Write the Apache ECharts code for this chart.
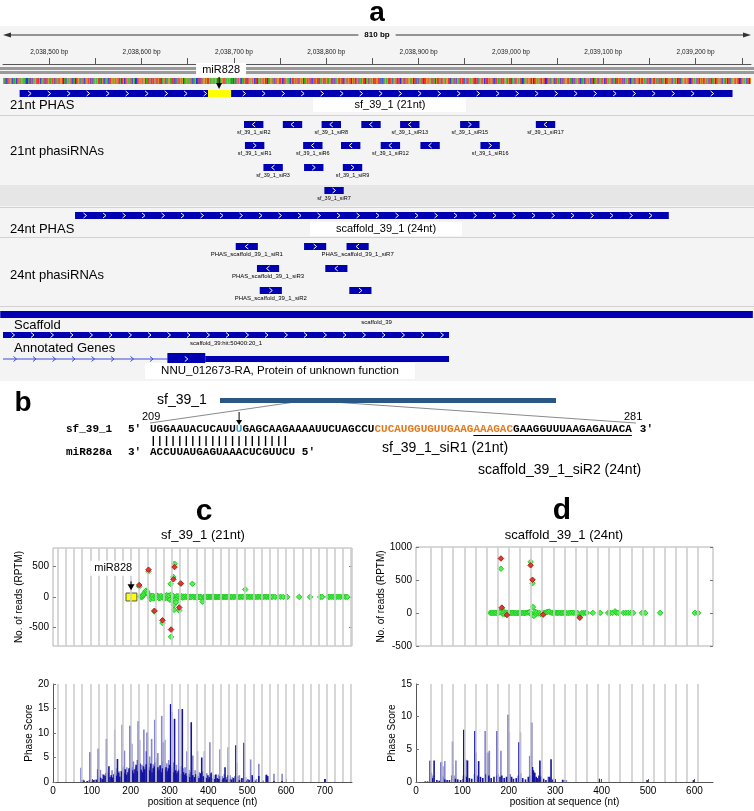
<!DOCTYPE html>
<html>
<head>
<meta charset="utf-8">
<script src="https://cdn.jsdelivr.net/npm/echarts@6/dist/echarts.min.js"></script>
<style>
html,body{margin:0;padding:0;background:#fff;}
#main{width:754px;height:811px;}
</style>
</head>
<body>
<div id="main"></div>
<script>
// ================= DATA =================
// Panel a : genome browser (bp coordinates)
const rulerMin = 2038450, rulerMax = 2039260;
const rulerTicks = [2038500,2038550,2038600,2038650,2038700,2038750,2038800,2038850,2038900,2038950,2039000,2039050,2039100,2039150,2039200,2039250];
const rulerLabels = [2038500,2038600,2038700,2038800,2038900,2039000,2039100,2039200];
const seqLines = [
"GATCCTTAGTCAAGCTTGTAGAAATCCATCTTCGAGTTTGCAAGCTCTTGAAGTGCTTAATTGGTCATCGAAGTTCTAC",
"TTGGCAATTCAGGTGCTTCAAGAGTTACGTCCAATCTTGGAGATGTTCACTGCTTGAAATTCGACCTTGTGATGGCAAT",
"AGCTTCGATTGTTCAAGTCATGGAATACTCATTTGAGCAAGAAAATTCTAGCCTCTCATGGTGTTGAAGAAAGACGAAG",
"GTTTAAGAGATACATCGTTGCCAAGTTCTTGAGTGCTTCAGATGTTGCTCAAGGATTCATGGTTGCCTTAGAATCGTTG",
"ATGCTTGAGCAAGTTGCTCCATAGTTCAATGCTTGAAGGTCTTCAAGTTGATCCGATTGTTCGAGCTTGCAATGTTCAG",
"TCGATGCTTGGTTCACCTAGAGTTTGCAAGTTCTTCAGATCGTTGGAAGCTTCATCGATTCTTGGTGAGCTTACGTTAG",
"CTTGATGGTTCAAGCTTCGAATGTTCAGCTTGAGGATCTTCAAGTTGCATCGTTGATCCTTGAAGCTTCGGATGTTCAA",
"GCTTGAGTTCCAAGTTGATCGCTTGAAGTTCGATCCTTGCAAGTCTTGAGCTTCATGGTTGAACTTCGAGTTCAAGCTT",
"GATGCTTCAAGTTCGATTGCTTGAGGTTCAACTTGATGCTTCGAGTTCAAGCTTGATCGTTGAAGCTTCCAGTTGATGC",
"TTCAAGCTTGAGTTCGATGCTTCAAGGTTGATCCTTGAAGCTTCGAGTTGATGCTTCAAGCTTGAGTTCGATGCTTCAA",
"GGTTGATCCTTGAAGCTTCGAGTTGATGCTTCAAGCTTGAGTTCGATGCTTCAAGGTTGATCCTTGAAGCTTCGAGTTG"
];
// features: [start, end, strand, row, label]
const phas21Track = [[2038468, 2039240, '+', 0, '']];
const mir828Site = [[2038672, 2038697]];
const mir828Cleave = [2038684];
const sirna21 = [
  [2038711,2038732,'-',0,'sf_39_1_siR2'],
  [2038753,2038774,'-',0,''],
  [2038795,2038816,'-',0,'sf_39_1_siR8'],
  [2038838,2038859,'-',0,''],
  [2038880,2038901,'-',0,'sf_39_1_siR13'],
  [2038945,2038966,'+',0,'sf_39_1_siR15'],
  [2039027,2039048,'-',0,'sf_39_1_siR17'],
  [2038712,2038733,'+',1,'sf_39_1_siR1'],
  [2038775,2038796,'-',1,'sf_39_1_siR6'],
  [2038816,2038837,'-',1,''],
  [2038859,2038880,'-',1,'sf_39_1_siR12'],
  [2038902,2038923,'-',1,''],
  [2038967,2038988,'+',1,'sf_39_1_siR16'],
  [2038732,2038753,'-',2,'sf_39_1_siR3'],
  [2038776,2038797,'+',2,''],
  [2038818,2038839,'+',2,'sf_39_1_siR9'],
  [2038798,2038819,'+',3,'sf_39_1_siR7']
];
const phas24Track = [[2038528, 2039171, '+', 0, '']];
const sirna24 = [
  [2038702,2038726,'-',0,'PHAS_scaffold_39_1_siR1'],
  [2038776,2038800,'+',0,''],
  [2038822,2038846,'-',0,'PHAS_scaffold_39_1_siR7'],
  [2038725,2038749,'-',1,'PHAS_scaffold_39_1_siR3'],
  [2038799,2038823,'-',1,''],
  [2038728,2038752,'+',2,'PHAS_scaffold_39_1_siR2'],
  [2038825,2038849,'+',2,'']
];
const scaffoldTrack = [[2038447, 2039262, '', 0, 'scaffold_39']];
const hitTrack = [[2038450, 2038933, '+', 0, 'scaffold_39:hit:50400:20_1']];
const geneModel = [[2038450, 2038628, 'intron'], [2038628, 2038669, 'cds'], [2038669, 2038933, 'utr']];

// Panel c / d : phase lines, reads, phase scores
const phaseLines21 = [12,33,54,75,96,117,138,159,180,201,222,243,264,285,306,327,348,369,390,411,432,453,474,495,516,537,558,579,600,621,642,663,684,705,726,747,768];
const phaseLines24 = [32,56,80,104,128,152,176,200,224,248,272,296,320,344,368,392,416,440,464,488,512,536,560,584,608];
const cTicksX = [0,100,200,300,400,500,600,700];
const dTicksX = [0,100,200,300,400,500,600];
const cScatterTicksY = [-500,0,500];
const dScatterTicksY = [-500,0,500,1000];
const cBarTicksY = [0,5,10,15,20];
const dBarTicksY = [0,5,10,15];
const cMir828 = [188, 216];

const cReadsGreen = [[222,170],[225,8],[228,-5],[230,10],[232,25],[234,45],[236,70],[238,95],[240,105],[242,85],[244,60],[246,419],[247,30],[249,-15],[251,-35],[253,15],[255,-10],[257,20],[259,-25],[261,-237],[263,10],[265,-15],[267,25],[269,-5],[271,12],[273,-20],[275,8],[277,-12],[279,18],[282,-425],[283,-8],[285,10],[287,-30],[289,15],[291,-10],[293,30],[295,-20],[297,8],[299,25],[301,-45],[303,215],[304,-650],[305,40],[307,-60],[309,20],[310,327],[311,-130],[312,-210],[313,543],[315,-40],[317,-86],[319,15],[321,-20],[323,10],[325,-220],[327,-8],[329,215],[331,12],[333,-10],[335,8],[338,-6],[341,10],[344,-5],[347,6],[350,-8],[353,5],[356,-4],[359,215],[361,6],[364,-5],[367,4],[370,-6],[373,5],[376,-3],[379,4],[382,-4],[385,-75],[388,3],[391,-3],[394,4],[397,-2],[400,3],[403,-3],[406,2],[409,4],[412,-2],[415,3],[418,-3],[421,2],[424,3],[427,-2],[430,2],[433,3],[436,-2],[439,2],[442,3],[445,-2],[448,2],[451,3],[454,-2],[457,2],[460,3],[464,-2],[468,2],[472,3],[476,2],[480,-2],[484,2],[488,3],[492,2],[495,123],[498,2],[502,3],[506,-2],[510,2],[514,3],[518,2],[522,-2],[526,2],[530,3],[534,2],[538,-2],[542,2],[546,3],[550,2],[554,2],[558,-2],[562,2],[566,3],[572,2],[580,2],[586,3],[593,2],[603,2],[634,2],[662,2],[688,2],[693,2],[709,2],[713,2],[718,3],[722,2],[727,2],[731,2],[736,3],[740,2],[745,2],[749,3],[754,2],[758,2]];
const cReadsRed = [[222,195],[246,445],[261,-225],[282,-380],[304,-532],[310,290],[313,489],[325,-172],[329,222]];

const dReadsGreen = [[160,2],[163,-2],[166,3],[169,-3],[172,4],[175,-4],[178,5],[181,10],[183,672],[185,60],[187,-12],[189,8],[191,-20],[193,6],[195,-8],[197,4],[200,-5],[203,3],[206,-4],[209,3],[212,-3],[215,2],[218,-3],[221,3],[224,2],[227,-2],[230,3],[233,-2],[236,3],[239,5],[242,8],[245,15],[247,774],[249,-25],[251,451],[252,90],[254,-45],[256,20],[258,-15],[260,8],[263,-10],[266,4],[269,-18],[272,3],[275,-4],[278,3],[281,10],[284,18],[287,22],[290,8],[293,3],[296,-3],[299,2],[302,3],[305,-2],[308,2],[311,3],[314,-2],[317,2],[320,3],[324,2],[328,-2],[332,2],[336,3],[340,2],[344,-2],[348,2],[353,-60],[357,2],[361,-2],[365,2],[368,2],[381,2],[397,2],[414,2],[419,3],[424,2],[429,25],[432,4],[436,2],[447,2],[452,3],[457,2],[463,2],[468,3],[487,2],[494,2],[526,2],[601,2],[608,2]];
const dReadsRed = [[183,826],[185,82],[247,723],[251,503],[353,-72],[196,-30],[274,-25]];

const cPhaseDark = [[75,0.4],[80,0.3],[88,0.2],[96,6.1],[100,0.3],[105,0.4],[112,0.5],[117,6.8],[120,1.0],[123,0.8],[127,0.6],[131,1.5],[134,1.2],[138,8.8],[141,1.8],[144,3.2],[147,1.0],[150,1.4],[154,0.9],[157,1.6],[160,2.0],[163,1.3],[166,4.7],[169,1.9],[172,1.1],[176,2.2],[180,3.0],[183,1.8],[186,2.6],[189,1.5],[193,2.0],[196,2.8],[199,11.5],[202,3.0],[205,2.4],[208,1.8],[211,2.6],[214,3.5],[218,2.2],[220,12.4],[224,3.8],[227,2.5],[230,2.0],[233,3.2],[236,2.6],[240,3.6],[243,10.1],[246,3.0],[249,2.4],[252,3.8],[255,2.0],[258,2.8],[261,3.2],[264,4.0],[267,2.2],[270,3.0],[273,2.5],[276,3.4],[279,2.0],[282,2.8],[285,8.1],[288,2.5],[291,3.0],[294,2.2],[297,2.8],[300,3.5],[303,15.9],[306,3.0],[309,2.0],[313,12.9],[316,2.4],[319,1.8],[322,2.2],[325,2.5],[328,1.6],[333,14.9],[336,2.0],[339,1.5],[342,1.8],[345,1.2],[349,1.6],[352,1.0],[356,12.2],[360,1.4],[364,1.0],[368,1.6],[372,1.2],[376,0.8],[380,1.8],[383,5.0],[387,1.2],[391,1.0],[395,0.8],[399,1.4],[403,1.0],[407,1.8],[411,0.8],[415,0.6],[419,1.5],[423,0.8],[427,0.6],[431,1.2],[435,0.5],[439,0.8],[443,3.0],[447,0.5],[451,1.4],[455,0.6],[460,0.5],[465,0.8],[471,7.5],[475,1.2],[480,0.4],[486,0.8],[492,8.0],[497,0.3],[505,0.4],[513,1.4],[520,0.3],[530,1.2],[540,0.3],[550,1.5],[553,1.2],[569,0.2],[590,0.2],[700,0.6]];
const cPhaseLight = [[72,2.9],[78,0.5],[93,0.4],[108,0.5],[115,2.6],[122,2.5],[128,1.6],[136,1.8],[140,2.2],[152,2.4],[159,10.7],[162,2.8],[170,2.2],[178,11.7],[182,3.4],[184,6.4],[190,3.0],[195,2.5],[203,7.8],[207,4.2],[213,3.0],[217,4.5],[223,8.6],[229,3.5],[234,10.7],[238,3.0],[240,6.3],[245,4.0],[249,5.2],[254,8.8],[258,3.6],[262,12.7],[266,5.0],[270,5.9],[274,3.2],[280,13.5],[284,4.2],[288,8.6],[293,3.8],[298,4.5],[301,2.8],[307,14.3],[311,4.0],[318,3.5],[324,14.9],[329,3.2],[335,2.8],[340,3.0],[345,6.3],[350,2.5],[354,2.0],[360,5.4],[366,2.4],[372,6.3],[377,2.0],[385,2.2],[390,6.3],[396,1.8],[404,8.1],[408,2.0],[414,1.4],[420,1.6],[426,1.5],[430,6.7],[436,1.2],[441,1.6],[446,1.0],[451,7.1],[456,1.4],[462,1.0],[468,1.2],[474,3.9],[480,1.4],[488,0.8],[496,1.0],[503,0.6],[509,4.6],[516,0.6],[524,0.6],[530,3.7],[548,1.4],[569,1.7],[590,1.7]];

const dPhaseDark = [[20,0.1],[25,0.1],[31,3.3],[33,1.4],[35,0.6],[39,3.3],[45,0.3],[50,0.2],[55,3.1],[57,0.8],[62,0.4],[67,0.3],[72,0.3],[79,6.2],[81,1.0],[85,0.5],[90,0.4],[96,0.3],[103,8.0],[106,1.0],[109,0.8],[111,3.3],[115,0.6],[120,0.5],[127,7.8],[129,4.5],[131,1.0],[135,3.2],[139,0.8],[144,0.6],[151,1.2],[154,4.5],[157,1.0],[162,0.6],[168,0.8],[175,7.8],[177,1.2],[181,0.8],[185,1.0],[190,0.6],[195,0.8],[199,10.3],[202,1.2],[206,0.8],[210,0.5],[216,0.6],[222,6.1],[225,1.3],[230,0.6],[236,0.4],[242,0.8],[247,1.0],[249,9.1],[251,2.3],[253,1.8],[256,1.4],[259,0.8],[262,0.6],[265,1.0],[267,3.3],[270,0.8],[275,0.5],[280,0.3],[287,0.8],[291,3.5],[295,0.4],[300,0.2],[316,0.35],[320,0.3],[395,0.5],[498,0.3],[598,0.3]];
const dPhaseLight = [[30,3.2],[37,1.0],[54,3.0],[58,2.4],[62,3.2],[77,1.0],[80,2.4],[86,3.3],[102,1.0],[108,3.4],[126,1.2],[133,0.8],[149,7.8],[153,0.8],[158,4.8],[174,1.0],[183,4.8],[201,7.6],[220,1.0],[225,7.6],[245,4.0],[250,2.0],[254,1.5],[270,1.0],[285,0.8],[290,0.7],[297,0.6],[320,0.35],[324,0.3]];

// ================= STYLE / LAYOUT =================
const SANS = '"Liberation Sans", Arial, sans-serif';
const NARROW = '"Liberation Sans Narrow", "Liberation Sans", Arial, sans-serif';
const MONO = '"Liberation Mono", "Courier New", monospace';
const BLUE = '#0000b2';
const GRID0_TOP = 64;
const LAY = {
  seqTop: 78, seqH: 6,
  phas21Top: 90, barH: 7,
  sirna21Rows: [121, 142, 164, 187],
  phas24Top: 212,
  sirna24Rows: [243, 265, 287],
  scaffoldTop: 311,
  hitTop: 332,
  geneY: 359
};
const baseColors = { A: '#12b312', C: '#1b1bf0', G: '#d78a10', T: '#f02020' };
const seqString = seqLines.join('').slice(0, rulerMax - rulerMin);

function txtStyle(text, x, y, font, align, extra) {
  return Object.assign({
    text: text, x: x, y: y, font: font, fill: '#000',
    align: align || 'left', verticalAlign: 'middle',
    textAlign: align || 'left', textVerticalAlign: 'middle'
  }, extra || {});
}
function gText(text, x, y, font, align, extra, z) {
  return { type: 'text', z: z || 20, silent: true, style: txtStyle(text, x, y, font, align, extra) };
}
function chevron(cx, cy, dir, color) {
  return { type: 'polyline', shape: { points: [[cx - dir * 1.5, cy - 2.5], [cx + dir * 1.5, cy], [cx - dir * 1.5, cy + 2.5]] },
           style: { stroke: color, lineWidth: 1, fill: null } };
}

function featureSeries(feats, rowTops, h, labelFont, labelGap) {
  return {
    type: 'custom', xAxisIndex: 0, yAxisIndex: 0, silent: true, animation: false, z: 5,
    data: feats.map(f => [f[0], 0, f[1]]),
    renderItem: function (params, api) {
      const f = feats[params.dataIndex];
      const x0 = api.coord([f[0], 0])[0];
      const x1 = api.coord([f[1], 0])[0];
      const top = rowTops[f[3]];
      const kids = [{ type: 'rect', shape: { x: x0, y: top, width: x1 - x0, height: h }, style: { fill: BLUE } }];
      if (f[2]) {
        const dir = f[2] === '+' ? 1 : -1;
        const cy = top + h / 2;
        if (x1 - x0 < 40) kids.push(chevron((x0 + x1) / 2, cy, dir, '#fff'));
        else for (let x = x0 + 10; x < x1 - 6; x += 19.5) kids.push(chevron(x, cy, dir, '#fff'));
      }
      if (f[4] && labelFont) {
        kids.push({ type: 'text', style: txtStyle(f[4], (x0 + x1) / 2, top + h + labelGap, labelFont, 'center') });
      }
      return { type: 'group', children: kids };
    }
  };
}

const chart = echarts.init(document.getElementById('main'), null, { renderer: 'canvas', width: 754, height: 811 });

function fmtBp(v) { return String(v).replace(/\B(?=(\d{3})+(?!\d))/g, ',') + ' bp'; }
function plain(v) { return String(v); }

const seqSeries = {
  type: 'custom', xAxisIndex: 0, yAxisIndex: 0, silent: true, animation: false, z: 4,
  data: seqString.split('').map((c, i) => [rulerMin + i, 0]),
  renderItem: function (params, api) {
    const bp = api.value(0);
    const a = api.coord([bp, 0])[0], b = api.coord([bp + 1, 0])[0];
    return { type: 'rect', shape: { x: a, y: LAY.seqTop, width: b - a, height: LAY.seqH },
             style: { fill: baseColors[seqString[params.dataIndex]] } };
  }
};

const mirSiteSeries = {
  type: 'custom', xAxisIndex: 0, yAxisIndex: 0, silent: true, animation: false, z: 6,
  data: mir828Site.map(s => [s[0], 0, s[1]]),
  renderItem: function (params, api) {
    const s = mir828Site[params.dataIndex];
    const x0 = api.coord([s[0], 0])[0], x1 = api.coord([s[1], 0])[0];
    return { type: 'rect', shape: { x: x0, y: LAY.phas21Top, width: x1 - x0, height: LAY.barH }, style: { fill: '#ffff00' } };
  }
};

const mirLabelSeries = {
  type: 'custom', xAxisIndex: 0, yAxisIndex: 0, silent: true, animation: false, z: 10,
  data: mir828Cleave.map(v => [v, 0]),
  renderItem: function (params, api) {
    const x = api.coord([api.value(0), 0])[0];
    return { type: 'group', children: [
      { type: 'rect', shape: { x: x - 23, y: 63, width: 50, height: 14 }, style: { fill: '#ffffff' } },
      { type: 'text', style: txtStyle('miR828', x + 2, 70, '11px ' + SANS, 'center') },
      { type: 'line', shape: { x1: x, y1: 77, x2: x, y2: 84 }, style: { stroke: '#000', lineWidth: 1.2 } },
      { type: 'polygon', shape: { points: [[x - 3, 83], [x + 3, 83], [x, 89]] }, style: { fill: '#000' } }
    ] };
  }
};

const geneSeries = {
  type: 'custom', xAxisIndex: 0, yAxisIndex: 0, silent: true, animation: false, z: 5,
  data: geneModel.map(g => [g[0], 0, g[1]]),
  renderItem: function (params, api) {
    const g = geneModel[params.dataIndex];
    const x0 = api.coord([g[0], 0])[0], x1 = api.coord([g[1], 0])[0];
    const cy = LAY.geneY;
    const kids = [];
    if (g[2] === 'intron') {
      kids.push({ type: 'line', shape: { x1: x0, y1: cy, x2: x1, y2: cy }, style: { stroke: '#3a4ad8', lineWidth: 1 } });
      for (let x = x0 + 12; x < x1 - 6; x += 19.5) kids.push(chevron(x, cy, 1, '#3a4ad8'));
    } else if (g[2] === 'cds') {
      kids.push({ type: 'rect', shape: { x: x0, y: cy - 6, width: x1 - x0, height: 12 }, style: { fill: BLUE } });
      kids.push(chevron((x0 + x1) / 2, cy, 1, '#fff'));
    } else {
      kids.push({ type: 'rect', shape: { x: x0, y: cy - 3, width: x1 - x0, height: 6 }, style: { fill: BLUE } });
    }
    return { type: 'group', children: kids };
  }
};

function phaseLineSeries(xi, yi, lines) {
  return {
    type: 'line', xAxisIndex: xi, yAxisIndex: yi, data: [], z: 1, silent: true, animation: false,
    markLine: { silent: true, symbol: ['none', 'none'], animation: false, label: { show: false },
      lineStyle: { color: '#cdcdcd', width: 1.6, type: 'solid' },
      emphasis: { disabled: true },
      data: lines.map(v => ({ xAxis: v })) }
  };
}

function scatterSeries(xi, yi, data, fill, border, z) {
  return { type: 'scatter', xAxisIndex: xi, yAxisIndex: yi, data: data, symbol: 'diamond', symbolSize: 5.5,
           itemStyle: { color: fill, borderColor: border, borderWidth: 1, opacity: 1 }, z: z, silent: true, animation: false };
}
function barSeries(xi, yi, data, color, z) {
  return { type: 'bar', xAxisIndex: xi, yAxisIndex: yi, data: data, barWidth: 1.6, barGap: '-100%',
           itemStyle: { color: color }, z: z, silent: true, animation: false };
}

const axisText = { fontSize: 10, color: '#000', fontFamily: SANS };
function plotX(gi, max, ticks, withLabels) {
  return {
    gridIndex: gi, type: 'value', min: 0, max: max,
    axisLine: { show: withLabels, lineStyle: { color: '#555', width: 1 } },
    axisTick: { show: withLabels, inside: true, length: 3, customValues: ticks, lineStyle: { color: '#555' } },
    axisLabel: Object.assign({ show: withLabels, customValues: ticks, margin: 4, formatter: plain }, axisText),
    splitLine: { show: false },
    name: withLabels ? 'position at sequence (nt)' : '', nameLocation: 'middle', nameGap: 14,
    nameTextStyle: { fontSize: 10, color: '#000', fontFamily: SANS }
  };
}
function plotY(gi, min, max, ticks, name, gap, nameSize, side, showLine) {
  const right = side === 'right';
  return {
    gridIndex: gi, type: 'value', min: min, max: max, position: side || 'left',
    axisLine: { show: showLine, lineStyle: { color: '#555', width: 1 } },
    axisTick: { show: true, inside: true, length: 3, customValues: ticks, lineStyle: { color: '#777' } },
    axisLabel: Object.assign({ show: !right, customValues: ticks, margin: 4, formatter: plain }, axisText),
    splitLine: { show: false },
    name: right ? '' : name, nameLocation: 'middle', nameGap: gap, nameRotate: 90,
    nameTextStyle: { fontSize: nameSize, color: '#000', fontFamily: SANS }
  };
}

// ---------- graphic (panel frames, texts, panel b) ----------
const seqRich = '{k|UGGAAUACUCAUU}{c|U}{k|GAGCAAGAAAAUUCUAGCCU}{o|CUCAUGGUGUUGAAGAAAGAC}{k|GAAGGUUUAAGAGAUACA}';
const monoFont = 'bold 11px ' + MONO;
const CH = 6.6;
const seqX = 150;
const graphics = [
  // panel a background
  { type: 'rect', z: -10, silent: true, shape: { x: 0, y: 26, width: 754, height: 355 }, style: { fill: '#f4f4f4' } },
  gText('a', 377, 13, 'bold 28px ' + SANS, 'center'),
  { type: 'line', z: 2, silent: true, shape: { x1: 8, y1: 35, x2: 746, y2: 35 }, style: { stroke: '#333', lineWidth: 1 } },
  { type: 'polygon', z: 2, silent: true, shape: { points: [[3, 35], [11, 32.5], [11, 37.5]] }, style: { fill: '#333' } },
  { type: 'polygon', z: 2, silent: true, shape: { points: [[751, 35], [743, 32.5], [743, 37.5]] }, style: { fill: '#333' } },
  gText('810 bp', 377, 35, 'bold 8px ' + SANS, 'center', { backgroundColor: '#f4f4f4', padding: [1, 6] }),
  { type: 'rect', z: 1, silent: true, shape: { x: 0, y: 67, width: 754, height: 3 }, style: { fill: '#9a9a9a' } },
  { type: 'rect', z: 1, silent: true, shape: { x: 0, y: 71, width: 754, height: 3 }, style: { fill: '#9a9a9a' } },
  // separators & gray band
  { type: 'rect', z: -5, silent: true, shape: { x: 0, y: 185, width: 754, height: 21 }, style: { fill: '#e6e6e6' } },
  { type: 'line', z: -4, silent: true, shape: { x1: 0, y1: 115.5, x2: 754, y2: 115.5 }, style: { stroke: '#d2d2d2', lineWidth: 1 } },
  { type: 'line', z: -4, silent: true, shape: { x1: 0, y1: 207.5, x2: 754, y2: 207.5 }, style: { stroke: '#d2d2d2', lineWidth: 1 } },
  { type: 'line', z: -4, silent: true, shape: { x1: 0, y1: 237.5, x2: 754, y2: 237.5 }, style: { stroke: '#d2d2d2', lineWidth: 1 } },
  { type: 'line', z: -4, silent: true, shape: { x1: 0, y1: 306.5, x2: 754, y2: 306.5 }, style: { stroke: '#d2d2d2', lineWidth: 1 } },
  // track names
  gText('21nt PHAS', 10, 105, '13px ' + SANS, 'left'),
  gText('21nt phasiRNAs', 10, 151, '13px ' + SANS, 'left'),
  gText('24nt PHAS', 10, 229, '13px ' + SANS, 'left'),
  gText('24nt phasiRNAs', 10, 275, '13px ' + SANS, 'left'),
  gText('Scaffold', 14, 325, '13px ' + SANS, 'left'),
  gText('Annotated Genes', 14, 348, '13px ' + SANS, 'left'),
  { type: 'rect', z: 15, silent: true, shape: { x: 313, y: 98, width: 153, height: 14 }, style: { fill: '#fff' } },
  gText('sf_39_1 (21nt)', 390, 105, '11px ' + SANS, 'center'),
  { type: 'rect', z: 15, silent: true, shape: { x: 310, y: 222, width: 152, height: 14 }, style: { fill: '#fff' } },
  gText('scaffold_39_1 (24nt)', 386, 229, '11px ' + SANS, 'center'),
  { type: 'rect', z: 15, silent: true, shape: { x: 145, y: 363, width: 270, height: 16 }, style: { fill: '#fff' } },
  gText('NNU_012673-RA, Protein of unknown function', 280, 371, '11.5px ' + SANS, 'center'),

  // panel b
  gText('b', 23, 403, 'bold 28px ' + SANS, 'center'),
  gText('sf_39_1', 157, 400, '14px ' + SANS, 'left'),
  { type: 'rect', z: 5, silent: true, shape: { x: 220, y: 398, width: 336, height: 5 }, style: { fill: '#2b5784' } },
  { type: 'line', z: 4, silent: true, shape: { x1: 302, y1: 401, x2: 150, y2: 423 }, style: { stroke: '#8a8a8a', lineWidth: 1 } },
  { type: 'line', z: 4, silent: true, shape: { x1: 318, y1: 401, x2: 636, y2: 423 }, style: { stroke: '#8a8a8a', lineWidth: 1 } },
  gText('209', 142, 417, '11px ' + SANS, 'left'),
  gText('281', 624, 417, '11px ' + SANS, 'left'),
  gText('sf_39_1', 66, 429, monoFont, 'left'),
  gText("5'", 128, 429, monoFont, 'left'),
  { type: 'text', z: 20, silent: true, style: { text: seqRich, x: seqX, y: 429, font: monoFont, align: 'left', verticalAlign: 'middle', textAlign: 'left', textVerticalAlign: 'middle',
      rich: { k: { fill: '#000', font: monoFont }, c: { fill: '#3a9fd8', font: monoFont }, o: { fill: '#e47a1e', font: monoFont } } } },
  gText("3'", seqX + 73 * CH + 8, 429, monoFont, 'left'),
  { type: 'line', z: 20, silent: true, shape: { x1: seqX + 49 * CH, y1: 435.5, x2: seqX + 73 * CH, y2: 435.5 }, style: { stroke: '#000', lineWidth: 1 } },
  { type: 'line', z: 20, silent: true, shape: { x1: seqX + 13.5 * CH, y1: 412, x2: seqX + 13.5 * CH, y2: 421 }, style: { stroke: '#000', lineWidth: 1 } },
  { type: 'polygon', z: 20, silent: true, shape: { points: [[seqX + 13.5 * CH - 3, 420], [seqX + 13.5 * CH + 3, 420], [seqX + 13.5 * CH, 425]] }, style: { fill: '#000' } },
  gText('|||||||||||||||||||||', seqX, 441, monoFont, 'left'),
  gText('miR828a', 66, 452, monoFont, 'left'),
  gText("3'", 128, 452, monoFont, 'left'),
  gText("ACCUUAUGAGUAAACUCGUUCU 5'", seqX, 452, monoFont, 'left'),
  gText('sf_39_1_siR1 (21nt)', 382, 448, '14px ' + SANS, 'left'),
  gText('scaffold_39_1_siR2 (24nt)', 478, 470, '14px ' + SANS, 'left'),

  // panels c, d headers
  gText('c', 204, 512, 'bold 30px ' + SANS, 'center'),
  gText('sf_39_1 (21nt)', 203, 535, '13px ' + SANS, 'center'),
  gText('d', 562, 511, 'bold 30px ' + SANS, 'center'),
  gText('scaffold_39_1 (24nt)', 564, 535, '13px ' + SANS, 'center')
];

const option = {
  backgroundColor: '#ffffff',
  animation: false,
  grid: [
    { left: 3, top: GRID0_TOP, width: 748, height: 316, show: false, containLabel: false, outerBoundsMode: 'none' },
    { left: 53, top: 548, width: 299, height: 98, show: true, borderColor: '#b0b0b0', borderWidth: 1, backgroundColor: 'rgba(0,0,0,0)', containLabel: false, outerBoundsMode: 'none' },
    { left: 53, top: 684, width: 299, height: 98, show: false, containLabel: false, outerBoundsMode: 'none' },
    { left: 416, top: 547, width: 297, height: 99, show: true, borderColor: '#b0b0b0', borderWidth: 1, backgroundColor: 'rgba(0,0,0,0)', containLabel: false, outerBoundsMode: 'none' },
    { left: 416, top: 684, width: 297, height: 98, show: false, containLabel: false, outerBoundsMode: 'none' }
  ],
  xAxis: [
    { gridIndex: 0, type: 'value', min: rulerMin, max: rulerMax, position: 'top',
      axisLine: { show: true, lineStyle: { color: '#555', width: 1 } },
      axisTick: { show: true, inside: false, length: 6, customValues: rulerTicks, lineStyle: { color: '#555' } },
      axisLabel: { show: true, customValues: rulerLabels, formatter: fmtBp, fontSize: 6.5, fontFamily: NARROW, color: '#222', margin: 8 },
      splitLine: { show: false } },
    plotX(1, 770, cTicksX, false),
    plotX(2, 770, cTicksX, true),
    plotX(3, 640, dTicksX, false),
    plotX(4, 640, dTicksX, true)
  ],
  yAxis: [
    { gridIndex: 0, type: 'value', min: 0, max: 316, inverse: true, show: false },
    plotY(1, -800, 800, cScatterTicksY, 'No. of reads (RPTM)', 29, 10, 'left', false),
    plotY(1, -800, 800, cScatterTicksY, '', 0, 10, 'right', false),
    plotY(2, 0, 20, cBarTicksY, 'Phase Score', 16, 10, 'left', true),
    plotY(3, -500, 1000, dScatterTicksY, 'No. of reads (RPTM)', 28, 10, 'left', false),
    plotY(3, -500, 1000, dScatterTicksY, '', 0, 10, 'right', false),
    plotY(4, 0, 15, dBarTicksY, 'Phase Score', 18, 10, 'left', true)
  ],
  graphic: { elements: graphics },
  series: [
    seqSeries,
    featureSeries(phas21Track, [LAY.phas21Top], LAY.barH, null, 0),
    mirSiteSeries,
    featureSeries(sirna21, LAY.sirna21Rows, LAY.barH, '5.5px ' + NARROW, 4),
    featureSeries(phas24Track, [LAY.phas24Top], LAY.barH, null, 0),
    featureSeries(sirna24, LAY.sirna24Rows, LAY.barH, '6px ' + NARROW, 4),
    featureSeries(scaffoldTrack, [LAY.scaffoldTop], LAY.barH, '6px ' + NARROW, 4.5),
    featureSeries(hitTrack, [LAY.hitTop], LAY.barH - 1, '6px ' + NARROW, 5),
    geneSeries,
    mirLabelSeries,

    // panel c reads
    phaseLineSeries(1, 1, phaseLines21),
    {
      type: 'line', xAxisIndex: 1, yAxisIndex: 1, data: [], z: 3, silent: true, animation: false,
      markArea: { silent: true, itemStyle: { color: '#ffff00', borderColor: '#555', borderWidth: 1, opacity: 1 },
        data: [[{ coord: [cMir828[0], -65] }, { coord: [cMir828[1], 65] }]] },
      markPoint: { silent: true, animation: false, data: [
        { coord: [201, 160], symbol: 'triangle', symbolSize: [7, 6], symbolRotate: 180, itemStyle: { color: '#000' }, label: { show: false } },
        { coord: [201, 215], symbol: 'rect', symbolSize: [1, 5], itemStyle: { color: '#000' }, label: { show: false } },
        { coord: [155, 470], symbol: 'rect', symbolSize: [0, 0], itemStyle: { color: 'rgba(0,0,0,0)' },
          label: { show: true, position: 'inside', formatter: 'miR828', backgroundColor: '#fff', padding: [2, 4], fontSize: 11, color: '#000', fontFamily: SANS } }
      ] }
    },
    scatterSeries(1, 1, cReadsGreen, '#55f055', '#22cc22', 4),
    scatterSeries(1, 1, cReadsRed, '#e03535', '#b02020', 5),

    // panel c phase score
    phaseLineSeries(2, 3, phaseLines21),
    barSeries(2, 3, cPhaseLight, '#8686d2', 3),
    barSeries(2, 3, cPhaseDark, '#1414a0', 4),

    // panel d reads
    phaseLineSeries(3, 4, phaseLines24),
    scatterSeries(3, 4, dReadsGreen, '#55f055', '#22cc22', 4),
    scatterSeries(3, 4, dReadsRed, '#e03535', '#b02020', 5),

    // panel d phase score
    phaseLineSeries(4, 6, phaseLines24),
    barSeries(4, 6, dPhaseLight, '#8686d2', 3),
    barSeries(4, 6, dPhaseDark, '#1414a0', 4)
  ]
};
chart.setOption(option);
</script>
</body>
</html>
